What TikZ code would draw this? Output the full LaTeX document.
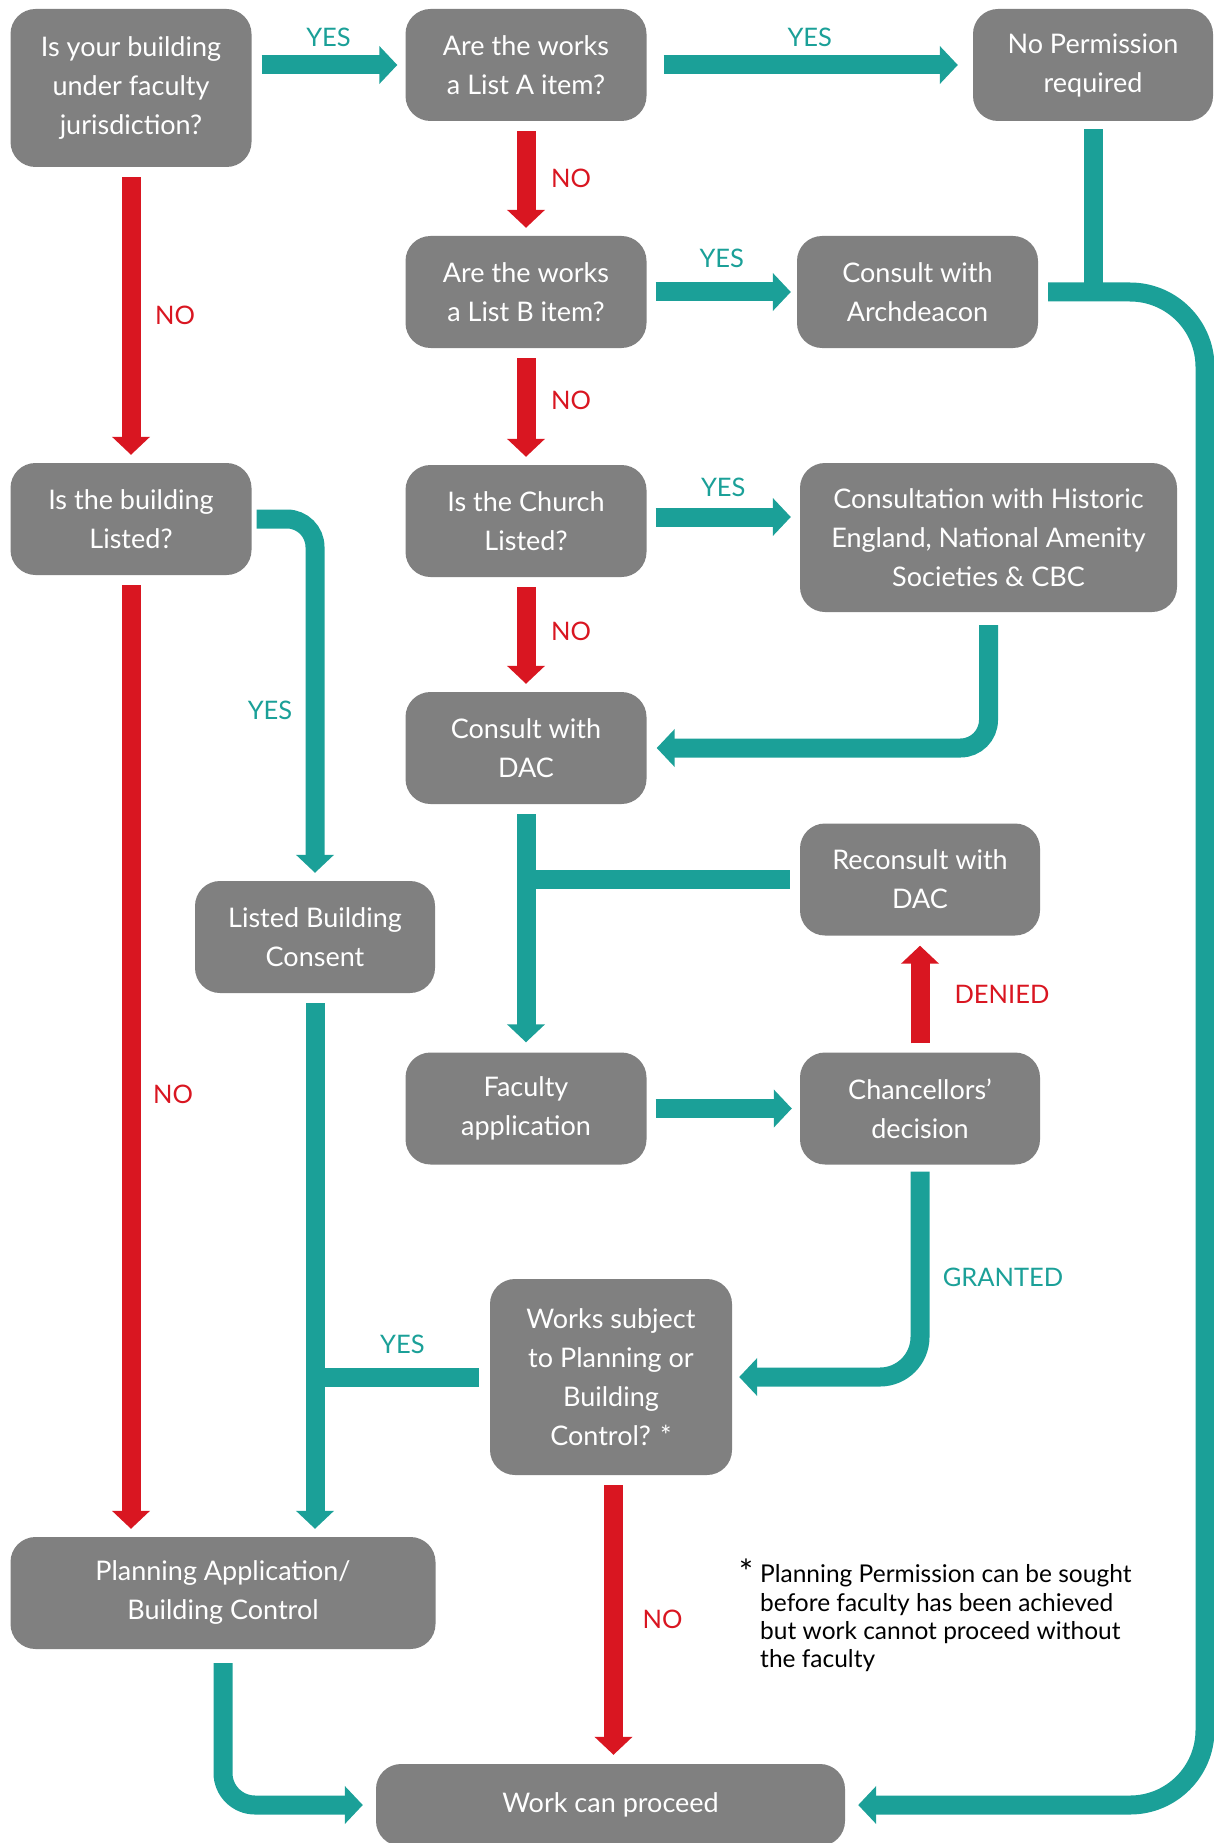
\documentclass[tikz,border=0pt]{standalone}
\usepackage{fontspec}
\setmainfont{Lato}
\usetikzlibrary{arrows.meta}
\definecolor{boxgray}{RGB}{128,128,128}
\definecolor{flowteal}{RGB}{27,160,152}
\definecolor{flowred}{RGB}{217,22,33}

\begin{document}
\begin{tikzpicture}[x=1pt, y=-1pt]
    % Styles
    \tikzstyle{stepbox} = [rectangle, fill=boxgray, text=white, rounded corners=25pt,
        minimum width=241pt, minimum height=112pt, align=center, inner sep=0pt,
        font=\fontsize{27}{39}\selectfont]
    \tikzstyle{yesline} = [line width=19pt, flowteal]
    \tikzstyle{yesarrow} = [yesline, -{Triangle[width=37pt,length=18pt]},
        shorten <=10pt, shorten >=8pt]
    \tikzstyle{noarrow} = [yesarrow, flowred]
    \tikzstyle{yeslabel} = [text=flowteal, font=\fontsize{25.5}{30}\selectfont]
    \tikzstyle{nolabel} = [text=flowred, font=\fontsize{25.5}{30}\selectfont]

    \useasboundingbox (0,0) rectangle (1213,1843);

    % === TOP ROW ===
    \node [stepbox, minimum height=158pt] (jurisdiction) at (131,88) {Is your building\\under faculty\\jurisdiction?};
    \node [stepbox] (lista) at (526,65) {Are the works\\a List A item?};
    \node [stepbox, minimum width=240pt] (noperm) at (1093,65) {No Permission\\required};

    % === SECOND ROW ===
    \node [stepbox] (listb) at (526,292) {Are the works\\a List B item?};
    \node [stepbox] (archdeacon) at (917.5,292) {Consult with\\Archdeacon};

    % === THIRD ROW ===
    \node [stepbox] (bldglisted) at (131,519) {Is the building\\Listed?};
    \node [stepbox] (churchlisted) at (526,521) {Is the Church\\Listed?};
    \node [stepbox, minimum width=377pt, minimum height=149pt] (historic) at (988.5,537.5) {Consultation with Historic\\England, National Amenity\\Societies \& CBC};

    % === MIDDLE ===
    \node [stepbox] (dac) at (526,748) {Consult with\\DAC};
    \node [stepbox, minimum width=240pt] (reconsult) at (920,879.5) {Reconsult with\\DAC};
    \node [stepbox, minimum width=240pt] (lbc) at (315,937) {Listed Building\\Consent};
    \node [stepbox] (facultyapp) at (526,1108.5) {Faculty\\application};
    \node [stepbox, minimum width=240pt] (chancellor) at (920,1108.5) {Chancellors'\\decision};

    % === BOTTOM ===
    \node [stepbox, minimum width=242pt, minimum height=196pt] (planctrl) at (611,1377) {Works subject\\to Planning or\\Building\\Control? *};
    \node [stepbox, minimum width=425pt] (planapp) at (223,1593) {Planning Application/\\Building Control};
    \node [stepbox, minimum width=469pt, minimum height=82pt] (proceed) at (610.5,1805) {Work can proceed};

    % Footnote
    \node [anchor=north west, inner sep=0pt, align=left, font=\fontsize{24.5}{28.3}\selectfont] (note) at (760,1559)
        {\llap{\raisebox{-2pt}{\fontsize{34}{34}\selectfont *}\hspace{7pt}}Planning Permission can be sought\\before faculty has been achieved\\but work cannot proceed without\\the faculty};

    % Rail coordinates
    \coordinate (railtop) at (1205,292);
    \coordinate (railbottom) at (1205,1805);

    % === ARROWS: Top ===
    \draw [yesarrow] (jurisdiction.east |- lista.west) -- (lista.west) node [yeslabel, midway, yshift=28pt] {YES};
    \draw [yesarrow, shorten <=17pt, shorten >=15pt] (lista) -- (noperm) node [yeslabel, midway, yshift=28pt] {YES};
    \draw [noarrow] (lista) -- (listb) node [nolabel, midway, xshift=45pt] {NO};
    \draw [noarrow] (jurisdiction) -- (bldglisted) node [nolabel, midway, xshift=44pt] {NO};
    \draw [yesarrow, shorten <=9pt, shorten >=6pt] (listb) -- (archdeacon) node [yeslabel, midway, yshift=34pt] {YES};

    % === ARROWS: Right rail ===
    \draw [yesline, shorten <=8pt] (noperm.south) -- (noperm.south |- archdeacon.east);
    \draw [yesarrow, rounded corners=75pt, shorten >=13pt] (archdeacon.east) -- (railtop) -- (railbottom) -- (proceed.east);

    % === ARROWS: Church ===
    \draw [noarrow] (listb) -- (churchlisted) node [nolabel, pos=0.45, xshift=45pt] {NO};
    \draw [yesarrow, shorten <=9pt, shorten >=9pt] ([yshift=4pt]churchlisted.east) -- ([yshift=4pt]churchlisted.east -| historic.west) node [yeslabel, midway, yshift=30pt] {YES};
    \draw [noarrow] (churchlisted) -- (dac) node [nolabel, pos=0.47, xshift=45pt] {NO};
    \draw [yesarrow, rounded corners=28pt, shorten <=13pt, shorten >=10pt] (historic.south) -- (historic.south |- dac.east) -- (dac.east);

    % === ARROWS: Listed building ===
    \draw [yesarrow, rounded corners=28pt, shorten <=5pt] (bldglisted.east) -- (bldglisted.east -| lbc.north) -- node [yeslabel, pos=0.53, xshift=-45pt] {YES} (lbc.north);
    \draw [noarrow] (bldglisted.south) -- (bldglisted.south |- planapp.north) node [nolabel, pos=0.54, xshift=42pt] {NO};
    \draw [yesarrow] (lbc.south) -- (lbc.south |- planapp.north);
    \draw [yesline, shorten <=11pt] (planctrl.west) -- (planctrl.west -| lbc.south) node [yeslabel, midway, yshift=33pt] {YES};

    % === ARROWS: Faculty ===
    \draw [yesarrow, shorten >=10pt] (dac) -- (facultyapp);
    \draw [yesline, shorten <=10pt] (reconsult.west) -- (reconsult.west -| dac.south);
    \draw [yesarrow, shorten <=9pt] (facultyapp) -- (chancellor);
    \draw [noarrow, shorten <=9pt, shorten >=10pt] (chancellor) -- (reconsult) node [nolabel, midway, xshift=82pt] {DENIED};
    \draw [yesarrow, rounded corners=40pt, shorten <=7pt, shorten >=7pt] (chancellor.south) -- node [yeslabel, pos=0.53, xshift=83pt] {GRANTED} (chancellor.south |- planctrl.east) -- (planctrl.east);

    % === ARROWS: Bottom ===
    \draw [noarrow, shorten >=9pt] ([xshift=2.5pt]planctrl.south) -- ([xshift=2.5pt]planctrl.south |- proceed.north) node [nolabel, midway, xshift=49pt] {NO};
    \draw [yesarrow, rounded corners=32pt, shorten <=14pt, shorten >=13pt] (planapp.south) -- (planapp.south |- proceed.west) -- (proceed.west);

\end{tikzpicture}
\end{document}
